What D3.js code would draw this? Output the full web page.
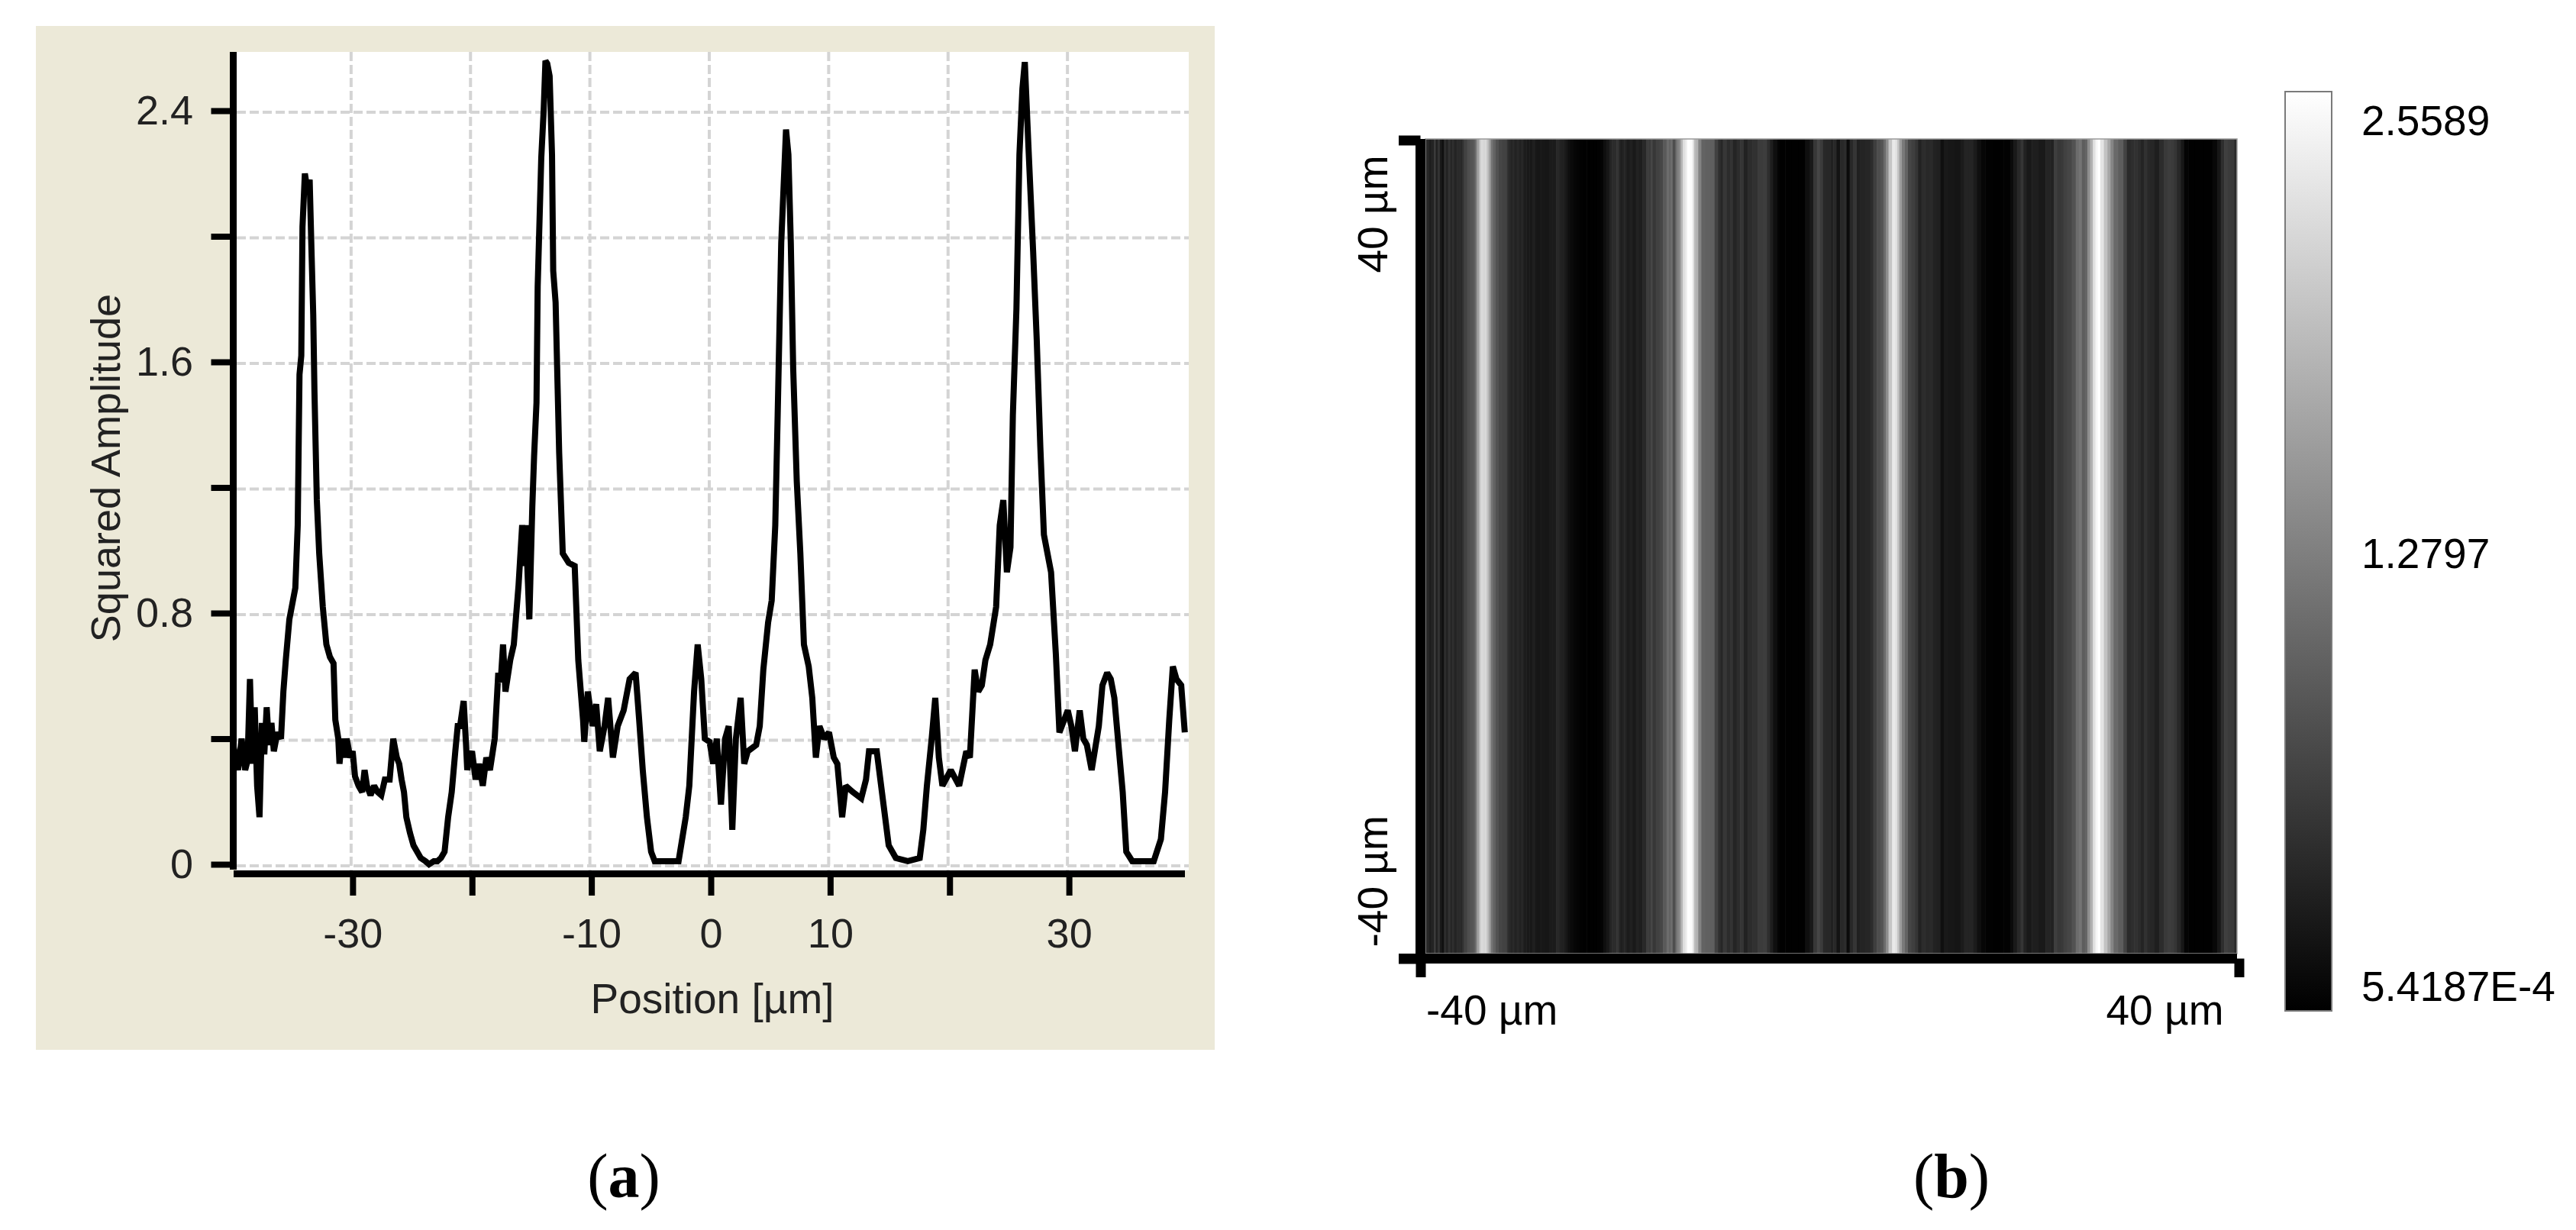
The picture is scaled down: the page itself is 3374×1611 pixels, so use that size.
<!DOCTYPE html>
<html><head><meta charset="utf-8">
<script src="https://cdn.jsdelivr.net/npm/d3@7"></script>
<style>body{margin:0;background:#fff;} svg{display:block;}</style>
</head><body>
<svg id="c" width="3374" height="1611"></svg>
<script>
// ---------- DATA ----------
// Line profile (a): [position µm, squared amplitude]
const profile = [
[-40.0,0.38],[-39.6,0.30],[-39.3,0.40],[-39.0,0.30],[-38.8,0.33],[-38.6,0.59],[-38.4,0.32],[-38.2,0.50],[-38.0,0.25],[-37.8,0.15],
[-37.6,0.45],[-37.4,0.35],[-37.2,0.50],[-37.0,0.38],[-36.8,0.45],[-36.6,0.36],[-36.3,0.42],[-36.0,0.40],[-35.8,0.55],[-35.6,0.65],
[-35.3,0.78],[-35.0,0.84],[-34.8,0.88],[-34.6,1.08],[-34.45,1.56],[-34.3,1.62],[-34.2,2.03],[-34.0,2.20],[-33.8,2.15],[-33.6,2.18],
[-33.45,1.96],[-33.3,1.75],[-33.2,1.51],[-33.0,1.16],[-32.8,0.99],[-32.5,0.82],[-32.2,0.70],[-31.9,0.66],[-31.6,0.64],[-31.45,0.46],
[-31.2,0.40],[-31.1,0.32],[-30.9,0.40],[-30.7,0.34],[-30.5,0.40],[-30.2,0.34],[-30.0,0.36],[-29.8,0.28],[-29.5,0.25],[-29.2,0.23],
[-29.0,0.30],[-28.8,0.25],[-28.5,0.22],[-28.2,0.25],[-27.9,0.23],[-27.6,0.22],[-27.3,0.27],[-26.9,0.27],[-26.6,0.40],[-26.3,0.34],
[-26.1,0.32],[-25.9,0.27],[-25.7,0.23],[-25.5,0.15],[-25.2,0.10],[-24.9,0.06],[-24.6,0.04],[-24.3,0.02],[-23.9,0.01],[-23.6,0.00],
[-23.2,0.01],[-22.9,0.01],[-22.6,0.02],[-22.3,0.04],[-22.0,0.15],[-21.7,0.23],[-21.4,0.36],[-21.2,0.44],[-21.0,0.44],[-20.7,0.52],
[-20.5,0.38],[-20.4,0.30],[-20.2,0.34],[-20.0,0.36],[-19.7,0.27],[-19.4,0.32],[-19.1,0.25],[-18.8,0.34],[-18.5,0.30],[-18.1,0.40],
[-17.8,0.61],[-17.6,0.58],[-17.4,0.70],[-17.2,0.55],[-16.8,0.65],[-16.5,0.70],[-16.1,0.89],[-15.8,1.08],[-15.6,0.95],[-15.5,1.08],
[-15.2,0.78],[-14.95,1.14],[-14.8,1.30],[-14.6,1.47],[-14.5,1.84],[-14.2,2.25],[-14.0,2.40],[-13.85,2.5589],[-13.7,2.55],[-13.5,2.51],
[-13.3,2.26],[-13.2,1.89],[-13.0,1.79],[-12.7,1.31],[-12.4,0.99],[-11.9,0.96],[-11.4,0.95],[-11.1,0.65],[-10.7,0.46],[-10.6,0.39],
[-10.3,0.55],[-9.9,0.44],[-9.6,0.51],[-9.3,0.36],[-8.9,0.44],[-8.6,0.53],[-8.2,0.34],[-7.8,0.44],[-7.3,0.49],[-6.8,0.59],
[-6.3,0.61],[-6.0,0.46],[-5.7,0.30],[-5.35,0.15],[-5.0,0.04],[-4.7,0.01],[-4.0,0.01],[-3.4,0.01],[-2.7,0.01],[-2.1,0.15],
[-1.8,0.25],[-1.4,0.55],[-1.1,0.70],[-0.8,0.59],[-0.5,0.40],[-0.1,0.39],[0.2,0.32],[0.5,0.40],[0.85,0.19],[1.2,0.40],
[1.5,0.44],[1.8,0.11],[2.1,0.40],[2.5,0.53],[2.8,0.32],[3.1,0.36],[3.8,0.38],[4.1,0.44],[4.4,0.62],[4.8,0.77],
[5.1,0.84],[5.4,1.08],[5.6,1.43],[5.9,1.98],[6.3,2.34],[6.5,2.26],[6.7,1.98],[6.9,1.58],[7.2,1.22],[7.5,0.99],
[7.8,0.70],[8.2,0.63],[8.5,0.53],[8.8,0.34],[9.1,0.44],[9.5,0.40],[9.9,0.42],[10.3,0.34],[10.6,0.32],[11.0,0.15],
[11.3,0.25],[11.9,0.23],[12.6,0.21],[13.0,0.27],[13.25,0.36],[13.9,0.36],[14.2,0.27],[14.6,0.15],[14.9,0.06],[15.5,0.02],
[16.5,0.01],[17.5,0.02],[17.8,0.11],[18.1,0.25],[18.5,0.40],[18.8,0.53],[19.1,0.34],[19.4,0.25],[20.1,0.30],[20.8,0.25],
[21.4,0.36],[21.7,0.34],[22.1,0.62],[22.4,0.55],[22.7,0.57],[23.0,0.65],[23.4,0.70],[23.9,0.82],[24.2,1.08],[24.5,1.16],
[24.8,0.93],[25.1,1.01],[25.3,1.43],[25.6,1.77],[25.85,2.26],[26.1,2.47],[26.3,2.555],[26.6,2.29],[27.0,1.95],[27.3,1.67],
[27.6,1.33],[27.9,1.05],[28.5,0.93],[28.9,0.67],[29.2,0.42],[29.6,0.46],[29.9,0.49],[30.2,0.44],[30.5,0.36],[30.9,0.49],
[31.2,0.40],[31.5,0.38],[31.9,0.30],[32.5,0.44],[32.8,0.57],[33.2,0.61],[33.5,0.59],[33.8,0.53],[34.1,0.40],[34.5,0.23],
[34.8,0.04],[35.3,0.01],[36.1,0.01],[37.1,0.01],[37.7,0.08],[38.05,0.23],[38.4,0.46],[38.7,0.63],[39.0,0.59],[39.4,0.57],
[39.7,0.42]
];
const yTicks = [0, 0.4, 0.8, 1.2, 1.6, 2.0, 2.4];
const yTickLabels = ["0", "", "0.8", "", "1.6", "", "2.4"];
const xTicks = [-30, -20, -10, 0, 10, 20, 30];
const xTickLabels = ["-30", "", "-10", "0", "10", "", "30"];
const xTitle = "Position [µm]";
const yTitle = "Squared Amplitude";
// Map (b)
const mapTickValues = [-40, 40];
const mapXLabels = ["-40 µm", "40 µm"];
const mapYLabels = ["-40 µm", "40 µm"];
const colorbarValues = [0.00054187, 1.2797, 2.5589];
const colorbarLabels = ["5.4187E-4", "1.2797", "2.5589"];
const panelLabels = ["a", "b"];

// ---------- DRAW ----------
const svg = d3.select("#c");
const SANS = "'Liberation Sans', Arial, sans-serif";
const SERIF = "'Liberation Serif', 'Times New Roman', serif";
const txtA = "#222";

// ===== Panel (a) =====
const A = {bgX:47, bgY:34, bgW:1544, bgH:1341, left:310, right:1557, top:68, bottom:1140};
svg.append("rect").attr("x",A.bgX).attr("y",A.bgY).attr("width",A.bgW).attr("height",A.bgH).attr("fill","#ECE9D8");
svg.append("rect").attr("x",A.left).attr("y",A.top).attr("width",A.right-A.left).attr("height",A.bottom-A.top).attr("fill","#fff");

const x = d3.scaleLinear().domain([-40, 40]).range([305.5, 1556.5]);
const y = d3.scaleLinear().domain([0, 2.4]).range([1132, 145]);

const grid = svg.append("g").attr("stroke","#d4d4d4").attr("stroke-width",4).attr("stroke-dasharray","12 5");
grid.selectAll("line.h").data(yTicks).join("line").attr("class","h")
  .attr("x1",A.left).attr("x2",A.right).attr("y1",d=>y(d)+2).attr("y2",d=>y(d)+2);
grid.selectAll("line.v").data(xTicks).join("line").attr("class","v")
  .attr("y1",A.top).attr("y2",A.bottom).attr("x1",d=>x(d)-2).attr("x2",d=>x(d)-2);

svg.append("clipPath").attr("id","clipA").append("rect")
  .attr("x",A.left).attr("y",A.top).attr("width",A.right-A.left).attr("height",A.bottom-A.top);
svg.append("path").datum(profile).attr("clip-path","url(#clipA)")
  .attr("fill","none").attr("stroke","#000").attr("stroke-width",8).attr("stroke-linejoin","miter").attr("stroke-miterlimit",2)
  .attr("d", d3.line().x(d=>x(d[0])).y(d=>y(d[1])));

// axes (a)
const gy = svg.append("g").attr("transform","translate(305.5,0)")
  .call(d3.axisLeft(y).tickValues(yTicks).tickSize(29).tickSizeOuter(0).tickPadding(23.5).tickFormat((d,i)=>yTickLabels[i]));
gy.select(".domain").remove();
gy.selectAll(".tick line").attr("stroke","#000").attr("stroke-width",8);
gy.selectAll(".tick text").attr("font-family",SANS).attr("font-size",54).attr("fill",txtA);

const gx = svg.append("g").attr("transform","translate(0,1144.5)")
  .call(d3.axisBottom(x).tickValues(xTicks).tickSize(28.5).tickSizeOuter(0).tickPadding(30).tickFormat((d,i)=>xTickLabels[i]));
gx.select(".domain").remove();
gx.selectAll(".tick line").attr("stroke","#000").attr("stroke-width",8);
gx.selectAll(".tick text").attr("font-family",SANS).attr("font-size",54).attr("fill",txtA);

svg.append("line").attr("x1",305.5).attr("x2",305.5).attr("y1",A.top).attr("y2",1139).attr("stroke","#000").attr("stroke-width",9);
svg.append("line").attr("x1",306).attr("x2",1552).attr("y1",1144.5).attr("y2",1144.5).attr("stroke","#000").attr("stroke-width",9);

svg.append("text").attr("x",933).attr("y",1327).attr("text-anchor","middle")
  .attr("font-family",SANS).attr("font-size",55).attr("fill",txtA).text(xTitle);
svg.append("text").attr("transform","translate(157,613) rotate(-90)").attr("text-anchor","middle")
  .attr("font-family",SANS).attr("font-size",54).attr("fill",txtA).text(yTitle);

// ===== Panel (b) =====
const B = {left:1867, right:2930, top:182, bottom:1249};
const xm = d3.scaleLinear().domain([-40, 40]).range([1860.5, 2932.5]);
const ym = d3.scaleLinear().domain([-40, 40]).range([1255.5, 183.5]);
const gray = d3.scaleLinear().domain([colorbarValues[0], colorbarValues[2]]).range(["#000","#fff"]).clamp(true);

svg.append("clipPath").attr("id","clipB").append("rect")
  .attr("x",B.left).attr("y",B.top).attr("width",B.right-B.left).attr("height",B.bottom-B.top);
const cells = profile.map((d,i)=>{
  const a = i===0 ? -40 : (profile[i-1][0]+d[0])/2;
  const b = i===profile.length-1 ? 40 : (profile[i+1][0]+d[0])/2;
  return {x0:a, x1:b, v:d[1]};
});
svg.append("g").attr("clip-path","url(#clipB)").selectAll("rect").data(cells).join("rect")
  .attr("x",d=>xm(d.x0)).attr("width",d=>xm(d.x1)-xm(d.x0)+0.6)
  .attr("y",ym(40)-2).attr("height",ym(-40)-ym(40)+4)
  .attr("fill",d=>gray(d.v));
svg.append("rect").attr("x",B.left).attr("y",B.top).attr("width",B.right-B.left).attr("height",B.bottom-B.top)
  .attr("fill","none").attr("stroke","#9a9a9a").attr("stroke-width",1.5);

// axes (b)
const gym = svg.append("g").attr("transform","translate(1860.5,0)")
  .call(d3.axisLeft(ym).tickValues(mapTickValues).tickSize(28.5).tickSizeOuter(0).tickFormat(""));
gym.select(".domain").remove();
gym.selectAll(".tick line").attr("stroke","#000").attr("stroke-width",13);
const gxm = svg.append("g").attr("transform","translate(0,1255.5)")
  .call(d3.axisBottom(xm).tickValues(mapTickValues).tickSize(24.5).tickSizeOuter(0).tickFormat(""));
gxm.select(".domain").remove();
gxm.selectAll(".tick line").attr("stroke","#000").attr("stroke-width",13);
svg.append("line").attr("x1",1860.5).attr("x2",1860.5).attr("y1",B.top).attr("y2",1262).attr("stroke","#000").attr("stroke-width",13);
svg.append("line").attr("x1",1832).attr("x2",2930).attr("y1",1255.5).attr("y2",1255.5).attr("stroke","#000").attr("stroke-width",13);

svg.append("text").attr("x",xm(-40)+7.5).attr("y",1342).attr("text-anchor","start")
  .attr("font-family",SANS).attr("font-size",55).attr("fill","#000").text(mapXLabels[0]);
svg.append("text").attr("x",xm(40)-20).attr("y",1342).attr("text-anchor","end")
  .attr("font-family",SANS).attr("font-size",55).attr("fill","#000").text(mapXLabels[1]);
svg.append("text").attr("transform",`translate(1817,${ym(-40)-15}) rotate(-90)`).attr("text-anchor","start")
  .attr("font-family",SANS).attr("font-size",55).attr("fill","#000").text(mapYLabels[0]);
svg.append("text").attr("transform",`translate(1817,${ym(40)+20}) rotate(-90)`).attr("text-anchor","end")
  .attr("font-family",SANS).attr("font-size",55).attr("fill","#000").text(mapYLabels[1]);

// colorbar
const CB = {x:2993, y:120, w:61, h:1204};
const defs = svg.append("defs");
const lg = defs.append("linearGradient").attr("id","cbg").attr("x1",0).attr("y1",1).attr("x2",0).attr("y2",0);
lg.append("stop").attr("offset","0%").attr("stop-color",gray(colorbarValues[0]));
lg.append("stop").attr("offset","100%").attr("stop-color",gray(colorbarValues[2]));
svg.append("rect").attr("x",CB.x).attr("y",CB.y).attr("width",CB.w).attr("height",CB.h)
  .attr("fill","url(#cbg)").attr("stroke","#7a7a7a").attr("stroke-width",2);
const cbLab = d3.scaleLinear().domain([colorbarValues[0], colorbarValues[2]]).range([1311, 177]);
svg.selectAll("text.cb").data(colorbarValues).join("text").attr("class","cb")
  .attr("x",3093).attr("y",d=>cbLab(d)).attr("font-family",SANS).attr("font-size",55).attr("fill","#000")
  .text((d,i)=>colorbarLabels[i]);

// panel labels
const pl = [{cx:817, t:panelLabels[0]}, {cx:2556, t:panelLabels[1]}];
pl.forEach(p=>{
  const t = svg.append("text").attr("x",p.cx).attr("y",1568).attr("text-anchor","middle")
    .attr("font-family",SERIF).attr("font-size",82).attr("fill","#000");
  t.append("tspan").text("(");
  t.append("tspan").attr("font-weight","bold").text(p.t);
  t.append("tspan").text(")");
});
</script>
</body></html>
